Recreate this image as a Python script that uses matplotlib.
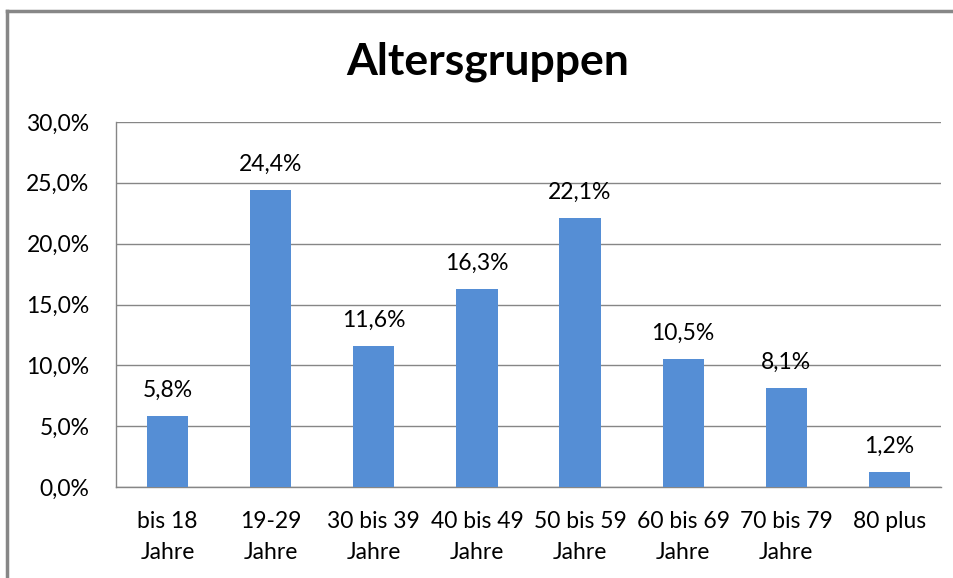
import matplotlib.pyplot as plt
from matplotlib.lines import Line2D
from matplotlib.ticker import FuncFormatter

categories = ['bis 18\nJahre', '19-29\nJahre', '30 bis 39\nJahre', '40 bis 49\nJahre',
              '50 bis 59\nJahre', '60 bis 69\nJahre', '70 bis 79\nJahre', '80 plus']
values = [5.8, 24.4, 11.6, 16.3, 22.1, 10.5, 8.1, 1.2]
y_ticks = [0, 5, 10, 15, 20, 25, 30]

plt.rcParams['font.family'] = ['Lato', 'DejaVu Sans']

fig = plt.figure(figsize=(9.54, 5.78), dpi=100)
ax = fig.add_axes([116/954, 1 - 487/578, 825/954, 365/578])

x = range(len(values))
bars = ax.bar(x, values, width=0.4, color='#558ED5', zorder=3)

for xi, v in zip(x, values):
    ax.annotate(f'{v:.1f}%'.replace('.', ','), (xi, v), xytext=(0, 11),
                textcoords='offset points', ha='center', va='bottom', fontsize=16.5)

ax.set_xlim(-0.5, len(values) - 0.5)
ax.set_ylim(0, 30)
ax.set_yticks(y_ticks)
ax.yaxis.set_major_formatter(FuncFormatter(lambda v, p: f'{v:.1f}%'.replace('.', ',')))
ax.set_xticks(list(x))
ax.set_xticklabels(categories, fontsize=16.5, linespacing=1.6)
ax.tick_params(axis='y', labelsize=16.5, length=0, pad=19)
ax.tick_params(axis='x', length=0, pad=17)

ax.grid(axis='y', color='#868686', linewidth=1, zorder=0)
for s in ['top', 'right']:
    ax.spines[s].set_visible(False)
for s in ['left', 'bottom']:
    ax.spines[s].set_color('#868686')
    ax.spines[s].set_linewidth(1)

fig.text(488/954, 1 - 62/578, 'Altersgruppen', ha='center', va='center',
         fontsize=32, fontweight='bold')

# chart frame (top and left edges visible)
fx, fy = 7.5/954, 1 - 10.5/578
fig.add_artist(Line2D([fx, 1.01], [fy, fy], transform=fig.transFigure,
                      color='#878787', linewidth=2.5))
fig.add_artist(Line2D([fx, fx], [-0.01, fy], transform=fig.transFigure,
                      color='#878787', linewidth=2.5))

fig.savefig('out.png', dpi=100)
